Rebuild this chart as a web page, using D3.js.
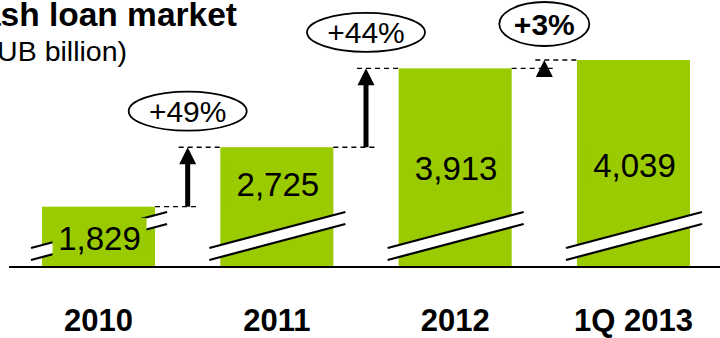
<!DOCTYPE html>
<html>
<head>
<meta charset="utf-8">
<script src="https://cdn.jsdelivr.net/npm/d3@7"></script>
<style>
  body { margin: 0; background: #fff; }
  svg { display: block; font-family: "Liberation Sans", Arial, sans-serif; }
</style>
</head>
<body>
<div id="wrapper"></div>
<script>
const years = ["2010", "2011", "2012", "1Q 2013"];
const loans = [1829, 2725, 3913, 4039];
const growth = ["+49%", "+44%", "+3%"];
const growthBold = [false, false, true];

function drawChart() {
    const width = 720;
    const height = 338;
    const green = "#9aca00";

    const wrapper = d3.select("#wrapper")
        .append("svg")
        .attr("width", width)
        .attr("height", height)

    const baseY = 267;

    // broken axis: bars start at an offset value
    const xScale = d3.scaleBand()
        .domain(years)
        .range([42, 690])
        .paddingInner(0.366)
        .paddingOuter(0)

    const yScale = d3.scaleLinear()
        .domain([920, 4039])
        .range([baseY, 60])

    const bw = xScale.bandwidth();
    const cx = d => xScale(d) + bw / 2;

    // bars
    wrapper.append("g")
        .selectAll("rect")
        .data(loans)
        .join("rect")
        .attr("x", (d, i) => xScale(years[i]))
        .attr("y", d => yScale(d))
        .attr("width", bw)
        .attr("height", d => baseY - yScale(d))
        .attr("fill", green)

    // break marks
    const breaks = wrapper.append("g")
        .selectAll("g")
        .data(years)
        .join("g")
    const xl = d => xScale(d) - 11;
    const xr = d => xScale(d) + bw + 12;
    breaks.append("polygon")
        .attr("points", d => [
            [xl(d), baseY - 19], [xr(d), baseY - 55],
            [xr(d), baseY - 43], [xl(d), baseY - 7]
        ].join(" "))
        .attr("fill", "#fff")
    breaks.append("line")
        .attr("x1", xl).attr("y1", baseY - 19)
        .attr("x2", xr).attr("y2", baseY - 55)
        .attr("stroke", "#000").attr("stroke-width", 2.2)
    breaks.append("line")
        .attr("x1", xl).attr("y1", baseY - 7)
        .attr("x2", xr).attr("y2", baseY - 43)
        .attr("stroke", "#000").attr("stroke-width", 2.2)

    // value labels
    const labelY = [250, 196, 180, 177];
    const labels = wrapper.append("g")
        .selectAll("g")
        .data(loans)
        .join("g")
    labels.append("rect")
        .attr("x", (d, i) => cx(years[i]) - 46)
        .attr("y", (d, i) => labelY[i] - 32)
        .attr("width", 94)
        .attr("height", 38)
        .attr("fill", green)
    labels.append("text")
        .attr("x", (d, i) => cx(years[i]) + 1)
        .attr("y", (d, i) => labelY[i])
        .attr("text-anchor", "middle")
        .style("font-size", "33px")
        .text(d => d3.format(",")(d))

    // baseline
    wrapper.append("line")
        .attr("x1", 9).attr("x2", width)
        .attr("y1", baseY).attr("y2", baseY)
        .attr("stroke", "#000").attr("stroke-width", 2)

    // growth arrows between bars
    const steps = growth.map((g, i) => ({
        label: g,
        bold: growthBold[i],
        x: (xScale(years[i]) + bw + xScale(years[i + 1])) / 2,
        y0: yScale(loans[i]),
        y1: yScale(loans[i + 1]),
        right0: xScale(years[i]) + bw,
        left1: xScale(years[i + 1])
    }))

    const arrows = wrapper.append("g")
        .selectAll("g")
        .data(steps)
        .join("g")

    arrows.append("line")
        .attr("x1", d => d.right0).attr("x2", d => d.x + 9)
        .attr("y1", d => d.y0).attr("y2", d => d.y0)
        .attr("stroke", "#000").attr("stroke-width", 1.4)
        .attr("stroke-dasharray", "5,4")
    arrows.append("line")
        .attr("x1", d => d.x - 9).attr("x2", d => d.left1)
        .attr("y1", d => d.y1).attr("y2", d => d.y1)
        .attr("stroke", "#000").attr("stroke-width", 1.4)
        .attr("stroke-dasharray", "5,4")
    arrows.filter(d => d.y0 - d.y1 > 20)
        .append("line")
        .attr("x1", d => d.x).attr("x2", d => d.x)
        .attr("y1", d => d.y0).attr("y2", d => d.y1 + 14)
        .attr("stroke", "#000").attr("stroke-width", 5)
    arrows.append("polygon")
        .attr("points", d => [
            [d.x, d.y1], [d.x - 8.5, d.y1 + 17], [d.x + 8.5, d.y1 + 17]
        ].join(" "))
        .attr("fill", "#000")

    arrows.append("ellipse")
        .attr("cx", d => d.x)
        .attr("cy", d => d.y1 - 36)
        .attr("rx", d => d.bold ? 45 : 59)
        .attr("ry", d => d.bold ? 22 : 19.5)
        .attr("fill", "#fff")
        .attr("stroke", "#000")
        .attr("stroke-width", 1.8)
    arrows.append("text")
        .attr("x", d => d.x)
        .attr("y", d => d.y1 - 25)
        .attr("text-anchor", "middle")
        .style("font-size", "30px")
        .style("font-weight", d => d.bold ? "bold" : "normal")
        .text(d => d.label)

    // category labels
    const xAxis = wrapper.append("g")
        .attr("transform", `translate(0, ${baseY})`)
        .call(d3.axisBottom(xScale).tickSize(0).tickPadding(42))
    xAxis.select(".domain").remove()
    xAxis.selectAll("text")
        .attr("fill", "#000")
        .style("font-family", "'Liberation Sans', Arial, sans-serif")
        .style("font-size", "31px")
        .style("font-weight", "bold")

    // title, cropped at the left edge as in the source slide
    wrapper.append("text")
        .attr("x", 237).attr("y", 26)
        .attr("text-anchor", "end")
        .style("font-size", "33.5px")
        .style("font-weight", "bold")
        .text("Russian cash loan market")
    wrapper.append("text")
        .attr("x", 127).attr("y", 61)
        .attr("text-anchor", "end")
        .style("font-size", "28.5px")
        .text("(RUB billion)")
}

drawChart()
</script>
</body>
</html>
